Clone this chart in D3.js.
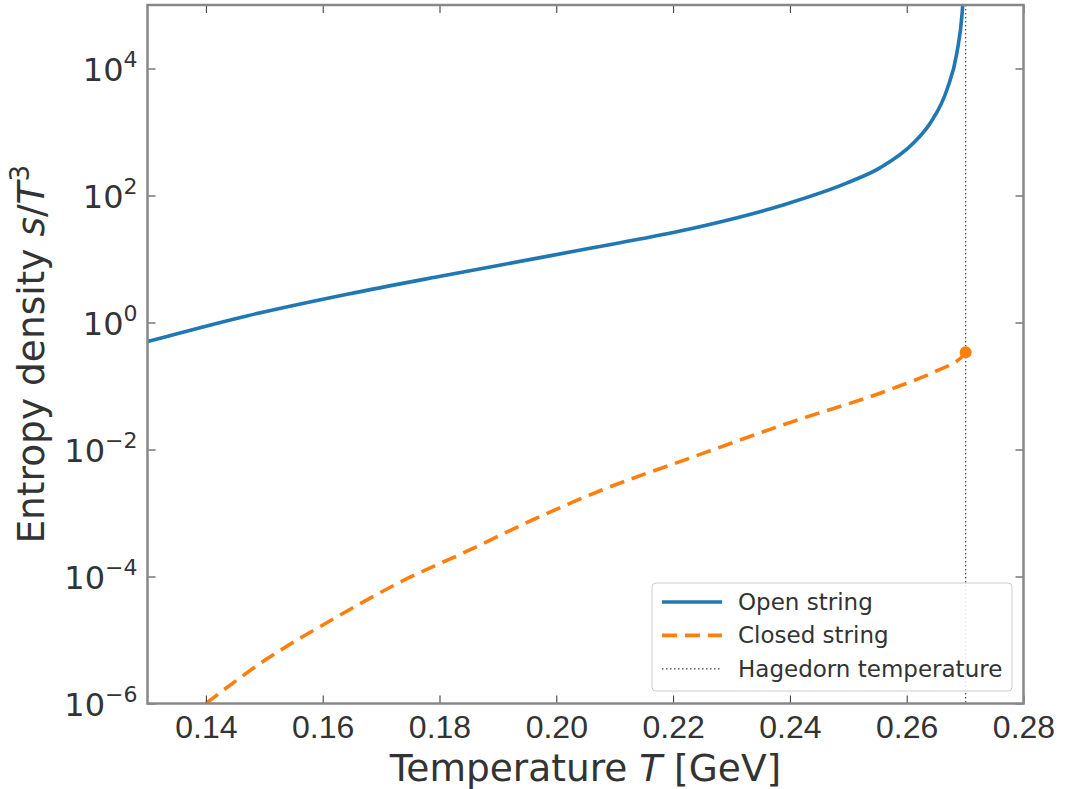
<!DOCTYPE html>
<html lang="en">
<head>
<meta charset="UTF-8" />
<title>Entropy density vs temperature</title>
<script src="https://d3js.org/d3.v7.min.js"></script>
<style>
  body { margin: 0; background: #fff; }
  svg { display: block; font-family: 'DejaVu Sans', sans-serif; }
  .tick text { fill: #333; }
</style>
</head>
<body>
<div id="chart"></div>
<script>
// --- data ---
const openT = [0.13, 0.147, 0.1642, 0.1813, 0.1984, 0.2053, 0.2212, 0.2384, 0.2498, 0.2555, 0.2612, 0.2641, 0.2669, 0.2686, 0.2695, 0.2698];
const openS = [0.50, 1.27, 2.79, 5.6, 11.0, 14.5, 27.5, 69, 158, 275, 676, 1410, 4680, 17800, 75900, 200000];

const closedT = [0.14, 0.1504, 0.1618, 0.1732, 0.1847, 0.1961, 0.2075, 0.2230, 0.2402, 0.2573, 0.2652, 0.2687, 0.2697];
const closedS = [1e-6, 5.0e-6, 2.14e-5, 8.1e-5, 2.5e-4, 7.9e-4, 2.24e-3, 7.4e-3, 2.7e-2, 8.9e-2, 0.174, 0.251, 0.30];

const endPoint = { T: 0.2701, s: 0.34 };
const hagedornT = 0.2701;

const xTicks = [0.14, 0.16, 0.18, 0.20, 0.22, 0.24, 0.26, 0.28];
const yExponents = [-6, -4, -2, 0, 2, 4];
const legendLabels = ["Open string", "Closed string", "Hagedorn temperature"];

// --- layout ---
const W = 1066, H = 789;
const pLeft = 147.5, pRight = 1023.5, pTop = 5, pBottom = 703.5;
const textColor = "#333";

const svg = d3.select("#chart").append("svg")
  .attr("width", W).attr("height", H);

const x = d3.scaleLinear().domain([0.13, 0.28]).range([pLeft, pRight]);
const y = d3.scaleLog().domain([1e-6, 1e5]).range([pBottom, pTop]);

svg.append("defs").append("clipPath").attr("id", "plotclip")
  .append("rect").attr("x", pLeft).attr("y", pTop)
  .attr("width", pRight - pLeft).attr("height", pBottom - pTop);

const plot = svg.append("g").attr("clip-path", "url(#plotclip)");

const line = d3.line()
  .x(d => x(d[0]))
  .y(d => y(d[1]))
  .curve(d3.curveMonotoneX);

// Hagedorn line
plot.append("line")
  .attr("x1", x(hagedornT)).attr("x2", x(hagedornT))
  .attr("y1", pTop).attr("y2", pBottom)
  .attr("stroke", "#444").attr("stroke-width", 1.2)
  .attr("stroke-dasharray", "1.5,2.5");

// open string
plot.append("path")
  .datum(openT.map((t, i) => [t, openS[i]]))
  .attr("d", line)
  .attr("fill", "none")
  .attr("stroke", "#1f77b4")
  .attr("stroke-width", 3.6);

// closed string
plot.append("path")
  .datum(closedT.map((t, i) => [t, closedS[i]]))
  .attr("d", line)
  .attr("fill", "none")
  .attr("stroke", "#ff7f0e")
  .attr("stroke-width", 3.6)
  .attr("stroke-dasharray", "15,8");

plot.append("circle")
  .attr("cx", x(endPoint.T)).attr("cy", y(endPoint.s))
  .attr("r", 6).attr("fill", "#ff7f0e");

// --- axes, ticks pointing inward on all sides ---
const tickLen = 8;
svg.append("g").attr("transform", `translate(0,${pBottom})`)
  .call(d3.axisBottom(x).tickValues(xTicks).tickSize(-tickLen).tickPadding(12)
    .tickFormat(d3.format(".2f")))
  .call(g => g.select(".domain").remove())
  .call(g => g.selectAll(".tick line").attr("stroke", "#333"))
  .call(g => g.selectAll(".tick text").attr("font-size", 32));

svg.append("g").attr("transform", `translate(0,${pTop})`)
  .call(d3.axisTop(x).tickValues(xTicks).tickSize(-tickLen).tickFormat(""))
  .call(g => g.select(".domain").remove())
  .call(g => g.selectAll(".tick line").attr("stroke", "#333"));

svg.append("g").attr("transform", `translate(${pLeft},0)`)
  .call(d3.axisLeft(y).tickValues(yExponents.map(e => Math.pow(10, e)))
    .tickSize(-tickLen).tickFormat(""))
  .call(g => g.select(".domain").remove())
  .call(g => g.selectAll(".tick line").attr("stroke", "#333"));

svg.append("g").attr("transform", `translate(${pRight},0)`)
  .call(d3.axisRight(y).tickValues(yExponents.map(e => Math.pow(10, e)))
    .tickSize(-tickLen).tickFormat(""))
  .call(g => g.select(".domain").remove())
  .call(g => g.selectAll(".tick line").attr("stroke", "#333"));

// y tick labels as 10^n
yExponents.forEach(e => {
  const t = svg.append("text")
    .attr("x", pLeft - 10).attr("y", y(Math.pow(10, e)) + 12)
    .attr("text-anchor", "end")
    .attr("fill", textColor)
    .attr("font-size", 32);
  t.append("tspan").text("10");
  t.append("tspan").attr("dy", -14).attr("font-size", 22)
    .text(e < 0 ? "\u2212" + Math.abs(e) : String(e));
});

// frame
svg.append("rect")
  .attr("x", pLeft).attr("y", pTop)
  .attr("width", pRight - pLeft).attr("height", pBottom - pTop)
  .attr("fill", "none").attr("stroke", "#888").attr("stroke-width", 2.5);

// --- axis labels ---
const xl = svg.append("text")
  .attr("x", (pLeft + pRight) / 2).attr("y", 781)
  .attr("text-anchor", "middle").attr("fill", textColor).attr("font-size", 37.5);
xl.append("tspan").text("Temperature ");
xl.append("tspan").attr("font-style", "italic").text("T");
xl.append("tspan").text(" [GeV]");

const yl = svg.append("text")
  .attr("transform", `translate(44,${(pTop + pBottom) / 2}) rotate(-90)`)
  .attr("text-anchor", "middle").attr("fill", textColor).attr("font-size", 37.5);
yl.append("tspan").text("Entropy density ");
yl.append("tspan").attr("font-style", "italic").text("s");
yl.append("tspan").text("/");
yl.append("tspan").attr("font-style", "italic").text("T");
yl.append("tspan").attr("dy", -15).attr("font-size", 26).text("3");

// --- legend ---
const lg = svg.append("g").attr("transform", "translate(652,583)");
lg.append("rect")
  .attr("width", 360).attr("height", 108).attr("rx", 4)
  .attr("fill", "#fff").attr("fill-opacity", 0.85)
  .attr("stroke", "#ccc").attr("stroke-width", 1);

const legendStyles = [
  { color: "#1f77b4", w: 3.6, dash: null },
  { color: "#ff7f0e", w: 3.6, dash: "15,8" },
  { color: "#444", w: 1.2, dash: "1.5,2.5" }
];

legendLabels.forEach((label, i) => {
  const row = lg.append("g").attr("transform", `translate(0,${19 + i * 33.4})`);
  row.append("line")
    .attr("x1", 10).attr("x2", 70).attr("y1", 0).attr("y2", 0)
    .attr("stroke", legendStyles[i].color)
    .attr("stroke-width", legendStyles[i].w)
    .attr("stroke-dasharray", legendStyles[i].dash);
  row.append("text")
    .attr("x", 86).attr("y", 8)
    .attr("fill", textColor).attr("font-size", 23)
    .text(label);
});
</script>
</body>
</html>
